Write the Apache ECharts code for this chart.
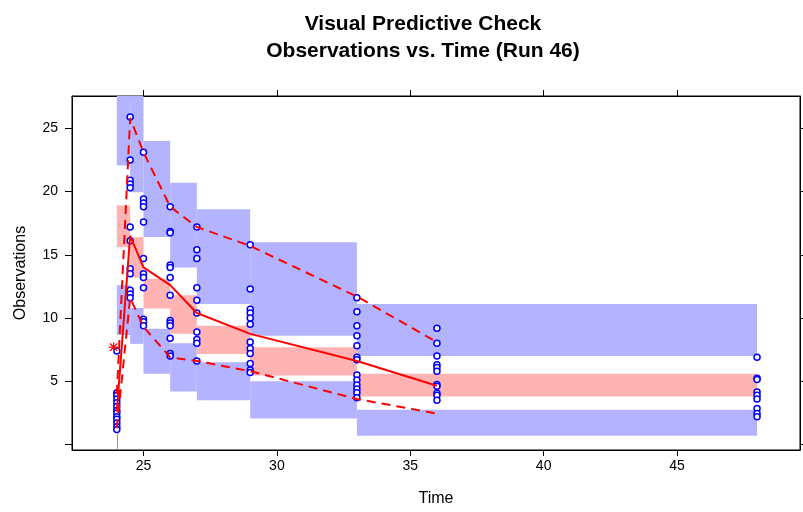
<!DOCTYPE html>
<html><head><meta charset="utf-8">
<script src="https://cdn.jsdelivr.net/npm/echarts@6/dist/echarts.min.js"></script>
<style>html,body{margin:0;padding:0;background:#fff}#c{width:803px;height:512px}</style>
</head><body><div id="c"></div>
<script>
// ---------- data ----------
const titleLines = ['Visual Predictive Check', 'Observations vs. Time (Run 46)'];
const xTicks = [25, 30, 35, 40, 45];
const yTicks = [0, 5, 10, 15, 20, 25];

// observed values, one array per sampling time
const obsTimes = [24, 24.5, 25, 26, 27, 29, 33, 36, 48];
const obs24   = [7.4, 4.1, 3.9, 3.6, 3.3, 3.0, 2.7, 2.5, 2.2, 2.0, 1.7, 1.4, 1.2];
const obs24_5 = [25.9, 22.5, 20.9, 20.6, 20.3, 17.2, 16.1, 13.9, 13.5, 12.2, 11.9, 11.6];
const obs25   = [23.1, 19.4, 19.1, 18.8, 17.6, 14.7, 13.5, 13.2, 12.4, 9.9, 9.7, 9.4];
const obs26   = [18.8, 16.85, 16.75, 14.2, 14.0, 13.2, 11.8, 9.8, 9.6, 9.4, 8.4, 7.2, 7.0];
const obs27   = [17.2, 15.4, 14.7, 12.4, 11.4, 10.4, 8.9, 8.3, 8.0, 6.6];
const obs29   = [15.8, 12.3, 10.7, 10.4, 10.0, 9.5, 8.1, 7.6, 7.2, 6.4, 5.9, 5.7];
const obs33   = [11.6, 10.5, 9.4, 8.6, 7.8, 6.9, 6.7, 5.5, 5.1, 4.7, 4.4, 4.1, 3.7];
const obs36   = [9.2, 8.0, 7.0, 6.3, 6.1, 5.8, 4.75, 4.6, 4.05, 3.9, 3.5];
const obs48   = [6.9, 5.25, 5.15, 4.15, 3.9, 3.6, 2.85, 2.45, 2.2];
const obsValues = [obs24, obs24_5, obs25, obs26, obs27, obs29, obs33, obs36, obs48];

// extra marker (asterisk)
const starTime = [23.88];
const starValue = [7.7];

// prediction interval bins
const binStart   = [24, 24.5, 25, 26, 27, 29, 33];
const binEnd     = [24.5, 25, 26, 27, 29, 33, 48];
const upperPIlo  = [22.05, 19.95, 16.4, 14.0, 11.1, 8.6, 7.0];
const upperPIhi  = [29, 29, 24.0, 20.7, 18.6, 16.0, 11.1];
const medianPIlo = [15.6, 13.2, 10.75, 8.75, 7.15, 5.45, 3.8];
const medianPIhi = [18.9, 16.4, 13.1, 11.8, 9.4, 7.7, 5.6];
const lowerPIlo  = [8.66, 7.96, 5.6, 4.2, 3.5, 2.05, 0.7];
const lowerPIhi  = [12.6, 10.8, 9.15, 8.0, 6.5, 5.0, 2.75];

// zero-width bin at time 24 (lower interval only visible)
const zeroBinTime = [24];
const zeroBinLo = [-3];
const zeroBinHi = [4.6];

// observed percentile lines
const lineTimes = [24, 24.5, 25, 26, 27, 29, 33, 36];
const medianObs = [2.6, 16.5, 14.0, 12.6, 10.4, 8.75, 6.6, 4.65];
const upperObs  = [4.0, 25.8, 23.1, 18.8, 17.2, 15.7, 11.7, 8.1];
const lowerObs  = [1.3, 11.6, 9.3, 6.9, 6.6, 5.8, 3.6, 2.45];

// ---------- build ----------
const BLUE_FILL = '#b3b3ff', RED_FILL = '#ffb3b3', RED = '#ff0000', BLUE = '#0000ff';
const XMIN = 22.32, XMAX = 49.61, YMIN = -0.43, YMAX = 27.55;

const rectData = [];
binStart.forEach((s, i) => {
  rectData.push([s, binEnd[i], upperPIlo[i], upperPIhi[i], 0]);
  rectData.push([s, binEnd[i], medianPIlo[i], medianPIhi[i], 1]);
  rectData.push([s, binEnd[i], lowerPIlo[i], lowerPIhi[i], 0]);
});
const scatterData = [];
obsTimes.forEach((t, i) => obsValues[i].forEach(v => scatterData.push([t, v])));
const toPairs = (xs, ys) => xs.map((x, i) => [x, ys[i]]);

const chart = echarts.init(document.getElementById('c'), null, {renderer: 'canvas'});
const txt = '#000';
const font = 'Liberation Sans, Arial, sans-serif';

chart.setOption({
  animation: false,
  backgroundColor: '#fff',
  title: [
    {text: titleLines[0], left: 418, top: 9, textAlign: 'center',
     textStyle: {fontFamily: font, fontWeight: 'bold', fontSize: 21, color: '#000'}},
    {text: titleLines[1], left: 418, top: 36, textAlign: 'center',
     textStyle: {fontFamily: font, fontWeight: 'bold', fontSize: 21, color: '#000'}}
  ],
  grid: {left: 72, right: 3, top: 96, bottom: 62, show: true, borderColor: '#000', borderWidth: 1, backgroundColor: 'transparent'},
  xAxis: [
    {type: 'value', min: XMIN, max: XMAX, position: 'bottom',
     name: 'Time', nameLocation: 'middle', nameGap: 41,
     nameTextStyle: {fontFamily: font, fontSize: 16, color: txt},
     axisLine: {show: true, onZero: false, lineStyle: {color: '#000'}},
     axisTick: {show: true, length: 6, customValues: xTicks, lineStyle: {color: '#000'}},
     axisLabel: {show: true, customValues: xTicks, margin: 9, fontFamily: font, fontSize: 14, color: txt},
     splitLine: {show: false}},
    {type: 'value', min: XMIN, max: XMAX, position: 'top',
     axisLine: {show: true, onZero: false, lineStyle: {color: '#000'}},
     axisTick: {show: true, length: 6, customValues: xTicks, lineStyle: {color: '#000'}},
     axisLabel: {show: false}, splitLine: {show: false}}
  ],
  yAxis: [
    {type: 'value', min: YMIN, max: YMAX, position: 'left',
     name: 'Observations', nameLocation: 'middle', nameGap: 43, nameRotate: 90,
     nameTextStyle: {fontFamily: font, fontSize: 16, color: txt},
     axisLine: {show: true, onZero: false, lineStyle: {color: '#000'}},
     axisTick: {show: true, length: 7, customValues: yTicks, lineStyle: {color: '#000'}},
     axisLabel: {show: true, customValues: yTicks, margin: 14, fontFamily: font, fontSize: 14, color: txt,
       formatter: v => (v === 0 ? '' : String(v))},
     splitLine: {show: false}},
    {type: 'value', min: YMIN, max: YMAX, position: 'right',
     axisLine: {show: true, onZero: false, lineStyle: {color: '#000'}},
     axisTick: {show: true, length: 6, customValues: yTicks, lineStyle: {color: '#000'}},
     axisLabel: {show: false}, splitLine: {show: false}}
  ],
  series: [
    {type: 'custom', name: 'PI', xAxisIndex: 0, yAxisIndex: 0, z: 1, silent: true,
     data: rectData,
     renderItem: (params, api) => {
       const p0 = api.coord([api.value(0), api.value(3)]);
       const p1 = api.coord([api.value(1), api.value(2)]);
       const cs = params.coordSys;
       const shape = echarts.graphic.clipRectByRect(
         {x: p0[0], y: p0[1], width: p1[0] - p0[0], height: p1[1] - p0[1]},
         {x: cs.x, y: cs.y, width: cs.width, height: cs.height});
       if (!shape) return null;
       return {type: 'rect', shape: shape, style: {fill: api.value(4) === 1 ? RED_FILL : BLUE_FILL}};
     }},
    {type: 'custom', name: 'zeroBin', z: 1, silent: true,
     data: zeroBinTime.map((t, i) => [t, zeroBinLo[i], zeroBinHi[i]]),
     renderItem: (params, api) => {
       const cs = params.coordSys;
       const a = api.coord([api.value(0), api.value(1)]);
       const b = api.coord([api.value(0), api.value(2)]);
       const yb = Math.min(a[1], cs.y + cs.height);
       return {type: 'line', shape: {x1: Math.round(a[0]) + 0.5, y1: yb, x2: Math.round(a[0]) + 0.5, y2: b[1]},
               style: {stroke: '#8c8cff', lineWidth: 1}};
     }},
    {type: 'scatter', name: 'obs', z: 3, data: scatterData, symbol: 'circle', symbolSize: 6,
     itemStyle: {color: '#ffffff', borderColor: BLUE, borderWidth: 1.5, opacity: 1}},
    {type: 'line', name: 'median', z: 4, data: toPairs(lineTimes, medianObs), showSymbol: false,
     lineStyle: {color: RED, width: 2}},
    {type: 'line', name: 'upper', z: 4, data: toPairs(lineTimes, upperObs), showSymbol: false,
     lineStyle: {color: RED, width: 2, type: [9, 6]}},
    {type: 'line', name: 'lower', z: 4, data: toPairs(lineTimes, lowerObs), showSymbol: false,
     lineStyle: {color: RED, width: 2, type: [9, 6]}},
    {type: 'custom', name: 'star', z: 5, silent: true,
     data: toPairs(starTime, starValue),
     renderItem: (params, api) => {
       const c = api.coord([api.value(0), api.value(1)]);
       const r = 5, d = r * 0.72;
       const st = {stroke: RED, lineWidth: 1.2};
       return {type: 'group', children: [
         {type: 'line', shape: {x1: c[0] - r, y1: c[1], x2: c[0] + r, y2: c[1]}, style: st},
         {type: 'line', shape: {x1: c[0], y1: c[1] - r, x2: c[0], y2: c[1] + r}, style: st},
         {type: 'line', shape: {x1: c[0] - d, y1: c[1] - d, x2: c[0] + d, y2: c[1] + d}, style: st},
         {type: 'line', shape: {x1: c[0] - d, y1: c[1] + d, x2: c[0] + d, y2: c[1] - d}, style: st}
       ]};
     }}
  ]
});
</script></body></html>
